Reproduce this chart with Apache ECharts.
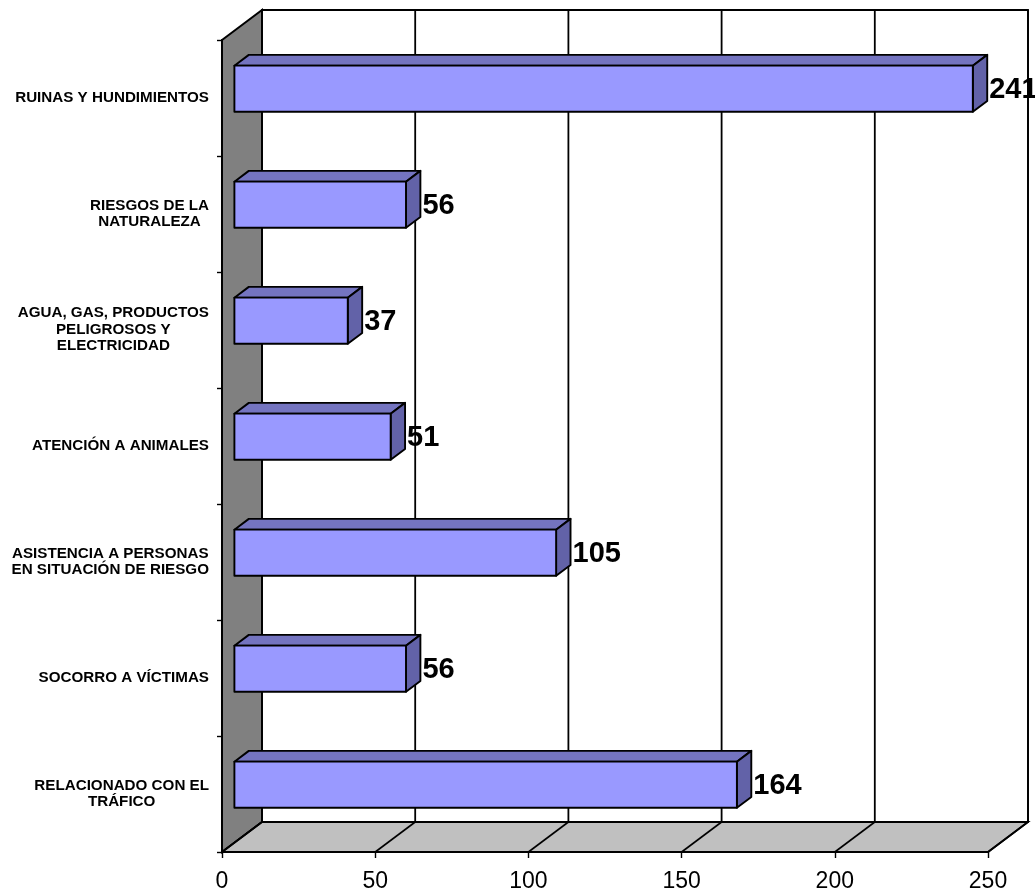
<!DOCTYPE html>
<html>
<head>
<meta charset="utf-8">
<script src="https://cdn.jsdelivr.net/npm/echarts@6/dist/echarts.min.js"></script>
<style>
html,body{margin:0;padding:0;background:#fff;}
#chart{width:1035px;height:893px;}
</style>
</head>
<body>
<div id="chart"></div>
<script>
// ---- data ----
const categories = [
  'RUINAS Y HUNDIMIENTOS',
  'RIESGOS DE LA\nNATURALEZA',
  'AGUA, GAS, PRODUCTOS\nPELIGROSOS Y\nELECTRICIDAD',
  'ATENCIÓN A ANIMALES',
  'ASISTENCIA A PERSONAS\nEN SITUACIÓN DE RIESGO',
  'SOCORRO A VÍCTIMAS',
  'RELACIONADO CON EL\nTRÁFICO'
];
const values = [241, 56, 37, 51, 105, 56, 164];
const xTicks = [0, 50, 100, 150, 200, 250];

// ---- 3D look ----
const FONT = '"Liberation Sans", Arial, Helvetica, sans-serif';
const DX = 40, DY = -30;        // full depth offset
const F1 = 0.31, F2 = 0.67;     // bar front / back depth fraction
const BAR_H = 0.397;            // bar thickness as share of band
const CAT_FS = 14, CAT_SCALE = 1.085, CAT_RIGHT = 209;

const measureCtx = document.createElement('canvas').getContext('2d');
measureCtx.font = 'bold ' + CAT_FS + 'px ' + FONT;
function blockWidth(t) {
  return Math.max.apply(null, t.split('\n').map(l => measureCtx.measureText(l).width));
}

const chart = echarts.init(document.getElementById('chart'), null, {renderer: 'canvas'});

function renderBackground(params, api) {
  const cs = params.coordSys;
  const top = cs.y, bottom = cs.y + cs.height;
  const x0 = api.coord([xTicks[0], 0])[0];
  const xN = api.coord([xTicks[xTicks.length - 1], 0])[0];
  const ch = [];
  // side wall
  ch.push({type: 'polygon', shape: {points: [[x0, top], [x0 + DX, top + DY], [x0 + DX, bottom + DY], [x0, bottom]]},
    style: {fill: '#808080', stroke: '#000', lineWidth: 2}});
  // back wall
  ch.push({type: 'rect', shape: {x: x0 + DX, y: top + DY, width: xN - x0, height: bottom - top},
    style: {fill: '#fff', stroke: '#000', lineWidth: 1.8}});
  xTicks.forEach(t => {
    const x = api.coord([t, 0])[0] + DX;
    ch.push({type: 'line', shape: {x1: x, y1: top + DY, x2: x, y2: bottom + DY}, style: {stroke: '#000', lineWidth: 1.8}});
  });
  // floor
  ch.push({type: 'polygon', shape: {points: [[x0, bottom], [xN, bottom], [xN + DX, bottom + DY], [x0 + DX, bottom + DY]]},
    style: {fill: '#c0c0c0', stroke: '#000', lineWidth: 1.8}});
  xTicks.forEach(t => {
    const x = api.coord([t, 0])[0];
    ch.push({type: 'line', shape: {x1: x, y1: bottom, x2: x + DX, y2: bottom + DY}, style: {stroke: '#000', lineWidth: 1.6}});
  });
  return {type: 'group', children: ch};
}

function renderBar(params, api) {
  const v = api.value(0), i = api.value(1);
  const p0 = api.coord([0, i]);
  const p1 = api.coord([v, i]);
  const band = api.size([0, 1])[1];
  const h = band * BAR_H;
  const fx = DX * F1, fy = DY * F1;
  const bx = DX * (F2 - F1), by = DY * (F2 - F1);
  const xl = p0[0] + fx, xr = p1[0] + fx;
  const yc = p0[1] + fy, yt = yc - h / 2, yb = yc + h / 2;
  const st = {stroke: '#000', lineWidth: 1.9, lineJoin: 'round'};
  const ch = [
    {type: 'polygon', shape: {points: [[xl, yt], [xr, yt], [xr + bx, yt + by], [xl + bx, yt + by]]},
      style: Object.assign({fill: '#7474c0'}, st)},
    {type: 'polygon', shape: {points: [[xr, yt], [xr + bx, yt + by], [xr + bx, yb + by], [xr, yb]]},
      style: Object.assign({fill: '#6262a8'}, st)},
    {type: 'rect', shape: {x: xl, y: yt, width: xr - xl, height: h},
      style: Object.assign({fill: '#9999ff'}, st)},
    {type: 'text', x: xr + bx + 2, y: yc + 1,
      style: {text: String(values[i]), fill: '#000', font: 'bold 29px ' + FONT, align: 'left', verticalAlign: 'middle'}}
  ];
  // category label (lines centred, block right-aligned)
  const label = categories[i];
  const w = blockWidth(label) * CAT_SCALE;
  ch.push({type: 'text', x: CAT_RIGHT - w / 2, y: p0[1], scaleX: CAT_SCALE,
    style: {text: label, fill: '#000', font: 'bold ' + CAT_FS + 'px ' + FONT, align: 'center', verticalAlign: 'middle', lineHeight: 16.5}});
  return {type: 'group', children: ch};
}

chart.setOption({
  animation: false,
  grid: {left: 222, right: 47, top: 40, bottom: 40, containLabel: false},
  xAxis: {
    type: 'value', min: 0, max: 250, interval: 50, z: 10,
    axisLine: {show: true, lineStyle: {color: '#000', width: 2}},
    axisTick: {show: true, length: 6, lineStyle: {color: '#000', width: 1.4}},
    splitLine: {show: false},
    axisLabel: {color: '#000', fontSize: 23, fontFamily: FONT, margin: 18}
  },
  yAxis: {
    type: 'category', data: categories, inverse: true, z: 10,
    axisLine: {show: true, lineStyle: {color: '#000', width: 2}},
    axisTick: {show: true, length: 5, lineStyle: {color: '#000', width: 1.4}},
    axisLabel: {show: false},
    splitLine: {show: false}
  },
  series: [
    {type: 'custom', renderItem: renderBackground, data: [[0, 0]], encode: {x: 0, y: 1}, silent: true, z: 1, clip: false},
    {type: 'custom', renderItem: renderBar, data: values.map((v, i) => [v, i]), encode: {x: 0, y: 1}, z: 3, clip: false}
  ]
});
</script>
</body>
</html>
